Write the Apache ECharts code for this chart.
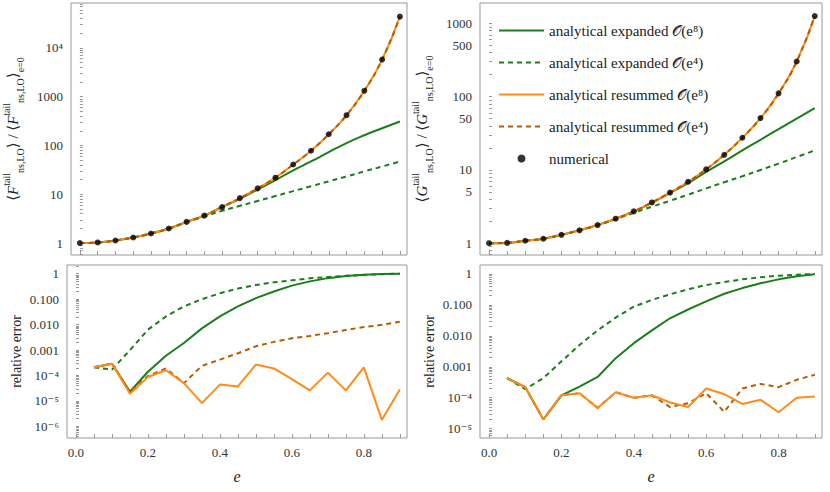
<!DOCTYPE html>
<html>
<head>
<meta charset="utf-8">
<script src="https://cdn.jsdelivr.net/npm/echarts@6/dist/echarts.min.js"></script>
<style>html,body{margin:0;padding:0;background:#fff}#c{width:830px;height:492px}</style>
</head>
<body>
<div id="c"></div>
<script>
// eccentricity grid
var eTop = [0,0.05,0.1,0.15,0.2,0.25,0.3,0.35,0.4,0.45,0.5,0.55,0.6,0.65,0.7,0.75,0.8,0.85,0.9];
var eErr = eTop.slice(1);

// top left, F flux ratio
var fNum = [1,1.03,1.13,1.30,1.57,1.99,2.72,3.66,5.48,8.35,13.2,21.9,40.7,78,170,417,1320,5750,43700];
var fExp8 = [1,1.03,1.13,1.30,1.57,1.99,2.72,3.66,5.48,8.1,12.5,19.4,31,47,73,112,162,225,310];
var fExp4 = [1,1.03,1.13,1.30,1.57,1.98,2.66,3.5,4.6,5.8,7.3,9.2,11.6,14.6,18.4,23.2,29.4,37,47];
var fRes8 = fNum;
var fRes4 = fNum;

// top right, G flux ratio
var gNum = [1,1.01,1.08,1.15,1.30,1.50,1.77,2.16,2.72,3.6,4.9,6.9,10.2,16.1,27.5,51,111,302,1260];
var gExp8 = [1,1.01,1.08,1.15,1.30,1.50,1.77,2.16,2.72,3.55,4.85,6.6,9.4,13.1,18.5,25.8,36,50,70];
var gExp4 = [1,1.01,1.08,1.15,1.30,1.50,1.76,2.12,2.6,3.15,3.8,4.6,5.6,6.8,8.2,10,12.2,15,18.5];
var gRes8 = gNum;
var gRes4 = gNum;

// bottom left, relative error of F
var fErrExp8 = [2.1e-4,2.9e-4,2.3e-5,1.4e-4,6e-4,1.9e-3,7.1e-3,0.021,0.052,0.11,0.20,0.34,0.50,0.67,0.81,0.91,0.97,1.0];
var fErrExp4 = [2.1e-4,1.7e-4,1e-3,6.3e-3,0.021,0.052,0.10,0.17,0.26,0.36,0.46,0.55,0.66,0.74,0.83,0.9,0.96,1.0];
var fErrRes8 = [2.1e-4,2.9e-4,1.9e-5,8.7e-5,1.6e-4,5e-5,8.2e-6,4.4e-5,3.7e-5,2.7e-4,1.9e-4,7.2e-5,2.6e-5,1.3e-4,2.6e-5,2.1e-4,1.8e-6,2.8e-5];
var fErrRes4 = [2.1e-4,2.9e-4,2.3e-5,9.5e-5,1.9e-4,5e-5,2.4e-4,4.2e-4,7.5e-4,1.4e-3,2.1e-3,2.9e-3,3.6e-3,4.6e-3,6.2e-3,8.0e-3,9.8e-3,1.3e-2];

// bottom right, relative error of G
var gErrExp8 = [4.3e-4,2.2e-4,2e-5,1.2e-4,2.3e-4,4.7e-4,1.9e-3,5.8e-3,0.015,0.037,0.071,0.13,0.23,0.35,0.50,0.67,0.84,0.98];
var gErrExp4 = [4.3e-4,1.9e-4,4.3e-4,1.5e-3,5.1e-3,0.015,0.039,0.088,0.145,0.22,0.32,0.44,0.55,0.67,0.78,0.88,0.95,1.0];
var gErrRes8 = [4.3e-4,2.2e-4,2e-5,1.2e-4,1.4e-4,4.7e-5,1.5e-4,1e-4,1.2e-4,7e-5,5e-5,2e-4,1.3e-4,6.3e-5,8.6e-5,3.4e-5,1e-4,1.1e-4];
var gErrRes4 = [4.3e-4,2.2e-4,2e-5,1.2e-4,1.4e-4,4.7e-5,1.5e-4,1e-4,1.2e-4,5e-5,6.6e-5,1.4e-4,3.5e-5,2e-4,2.8e-4,2.2e-4,3.8e-4,5.5e-4];

var xTicks = [0,0.2,0.4,0.6,0.8];
var xMinor = [0,0.05,0.1,0.15,0.2,0.25,0.3,0.35,0.4,0.45,0.5,0.55,0.6,0.65,0.7,0.75,0.8,0.85,0.9];

var GREEN = '#1b7d1b', ORANGE = '#ff8c1a', BROWN = '#b85c00';
var FONT = "'Liberation Serif', 'DejaVu Serif', serif";
var NAMES = ['analytical expanded 𝒪(e⁸)','analytical expanded 𝒪(e⁴)','analytical resummed 𝒪(e⁸)','analytical resummed 𝒪(e⁴)','numerical'];

function pairs(xs, ys){ return ys.map(function(y,i){ return [xs[i], y]; }); }

function minorLog(lo, hi){
	var out = [];
	for (var k = lo; k <= hi; k++) for (var m = 1; m < 10; m++) out.push(m * Math.pow(10, k));
	return out;
}

var supMap = {'-':'⁻','0':'⁰','1':'¹','2':'²','3':'³','4':'⁴','5':'⁵','6':'⁶','7':'⁷','8':'⁸','9':'⁹'};
function logLabel(v){
	var p = Math.round(Math.log10(v));
	if (Math.abs(p) >= 4) return '10' + String(p).split('').map(function(c){return supMap[c];}).join('');
	if (p < 0) return v.toFixed(3);
	return String(Math.round(v));
}

function xAx(idx, bottom){
	return {
		type:'value', gridIndex: idx, min:-0.025, max:0.92,
		name: bottom ? 'e' : '', nameLocation:'middle', nameGap:30,
		nameTextStyle:{fontFamily:FONT, fontStyle:'italic', fontSize:16, color:'#222'},
		axisLine:{show:false}, splitLine:{show:false},
		axisTick:{show:true, inside:true, length:4, customValues:xMinor, lineStyle:{color:'#999'}},
		axisLabel:{show:bottom, customValues:xTicks, fontFamily:FONT, fontSize:13, color:'#333',
			formatter:function(v){return v.toFixed(1);}}
	};
}

function yAx(idx, min, max, labels, lo, hi, name, rich){
	return {
		type:'log', logBase:10, gridIndex: idx, min:min, max:max,
		name:name, nameLocation:'middle', nameRotate:90, nameGap: rich ? 46 : 44,
		nameTextStyle:{fontFamily:FONT, fontSize:14, color:'#222', rich: rich || {}},
		axisLine:{show:false}, splitLine:{show:false},
		axisTick:{show:true, inside:true, length:3, customValues:minorLog(lo, hi).filter(function(v){return v>=min && v<=max;}), lineStyle:{color:'#999'}},
		axisLabel:{customValues:labels, fontFamily:FONT, fontSize:13, color:'#333', formatter:logLabel}
	};
}

var richY = {
	n:{fontSize:15, lineHeight:24, fontFamily:FONT, color:'#222'},
	s:{fontSize:10, verticalAlign:'top', lineHeight:24, fontFamily:FONT, color:'#222'},
	b:{fontSize:10, verticalAlign:'bottom', lineHeight:24, fontFamily:FONT, color:'#222'},
	m:{fontSize:15, fontStyle:'italic', lineHeight:24, fontFamily:FONT, color:'#222'}
};
var nameF = '{n|⟨}{m|F}{s|tail}{b|ns,LO}{n|⟩ / ⟨}{m|F}{s|tail}{b|ns,LO}{n|⟩}{b|e=0}';
var nameG = '{n|⟨}{m|G}{s|tail}{b|ns,LO}{n|⟩ / ⟨}{m|G}{s|tail}{b|ns,LO}{n|⟩}{b|e=0}';

function lineS(name, idx, data, color, dashed, smooth, z){
	return {
		name:name, type:'line', xAxisIndex:idx, yAxisIndex:idx, data:data,
		showSymbol:false, symbol:'none', smooth:smooth, z:z,
		lineStyle:{color:color, width:2, type: dashed ? [5,4] : 'solid'},
		itemStyle:{color:color}
	};
}
function dotS(idx, data){
	return {name:NAMES[4], type:'scatter', xAxisIndex:idx, yAxisIndex:idx, data:data,
		symbolSize:6, itemStyle:{color:'#000'}, z:10};
}

var series = [];
[[0, fExp8, fExp4, fRes8, fRes4, fNum],[1, gExp8, gExp4, gRes8, gRes4, gNum]].forEach(function(s){
	series.push(lineS(NAMES[0], s[0], pairs(eTop, s[1]), GREEN, false, true, 2));
	series.push(lineS(NAMES[1], s[0], pairs(eTop, s[2]), GREEN, true, true, 2));
	series.push(lineS(NAMES[2], s[0], pairs(eTop, s[3]), ORANGE, false, true, 3));
	series.push(lineS(NAMES[3], s[0], pairs(eTop, s[4]), BROWN, true, true, 4));
	series.push(dotS(s[0], pairs(eTop, s[5])));
});
[[2, fErrExp8, fErrExp4, fErrRes8, fErrRes4],[3, gErrExp8, gErrExp4, gErrRes8, gErrRes4]].forEach(function(s){
	series.push(lineS(NAMES[0], s[0], pairs(eErr, s[1]), GREEN, false, false, 2));
	series.push(lineS(NAMES[1], s[0], pairs(eErr, s[2]), GREEN, true, false, 2));
	series.push(lineS(NAMES[3], s[0], pairs(eErr, s[4]), BROWN, true, false, 3));
	series.push(lineS(NAMES[2], s[0], pairs(eErr, s[3]), ORANGE, false, false, 4));
});

var legendData = NAMES.map(function(n, i){
	return i < 4 ? {name:n, itemStyle:{opacity:0}} : {name:n, itemStyle:{color:'#000'}};
});

var option = {
	animation:false,
	backgroundColor:'#fff',
	textStyle:{fontFamily:FONT},
	legend:{
		data:legendData, orient:'vertical', left:493, top:18, itemWidth:45, itemHeight:8, itemGap:17,
		textStyle:{fontFamily:FONT, fontSize:15, color:'#222'}, selectedMode:false
	},
	grid:[
		{left:67, right:423, top:3, height:252, show:true, borderColor:'#999', borderWidth:1},
		{left:480, right:8, top:3, height:252, show:true, borderColor:'#999', borderWidth:1},
		{left:67, right:423, top:265, height:173, show:true, borderColor:'#999', borderWidth:1},
		{left:480, right:8, top:265, height:173, show:true, borderColor:'#999', borderWidth:1}
	],
	xAxis:[xAx(0,false), xAx(1,false), xAx(2,true), xAx(3,true)],
	yAxis:[
		yAx(0, 0.57, 83000, [1,10,100,1000,10000], -1, 4, nameF, richY),
		yAx(1, 0.69, 1900, [1,5,10,50,100,500,1000], -1, 3, nameG, richY),
		yAx(2, 3.5e-7, 2.2, [1,0.1,0.01,0.001,1e-4,1e-5,1e-6], -7, 0, 'relative error'),
		yAx(3, 5e-6, 1.95, [1,0.1,0.01,0.001,1e-4,1e-5], -6, 0, 'relative error')
	],
	series:series
};

var chart = echarts.init(document.getElementById('c'), null, {renderer:'svg'});
chart.setOption(option);
</script>
</body>
</html>
